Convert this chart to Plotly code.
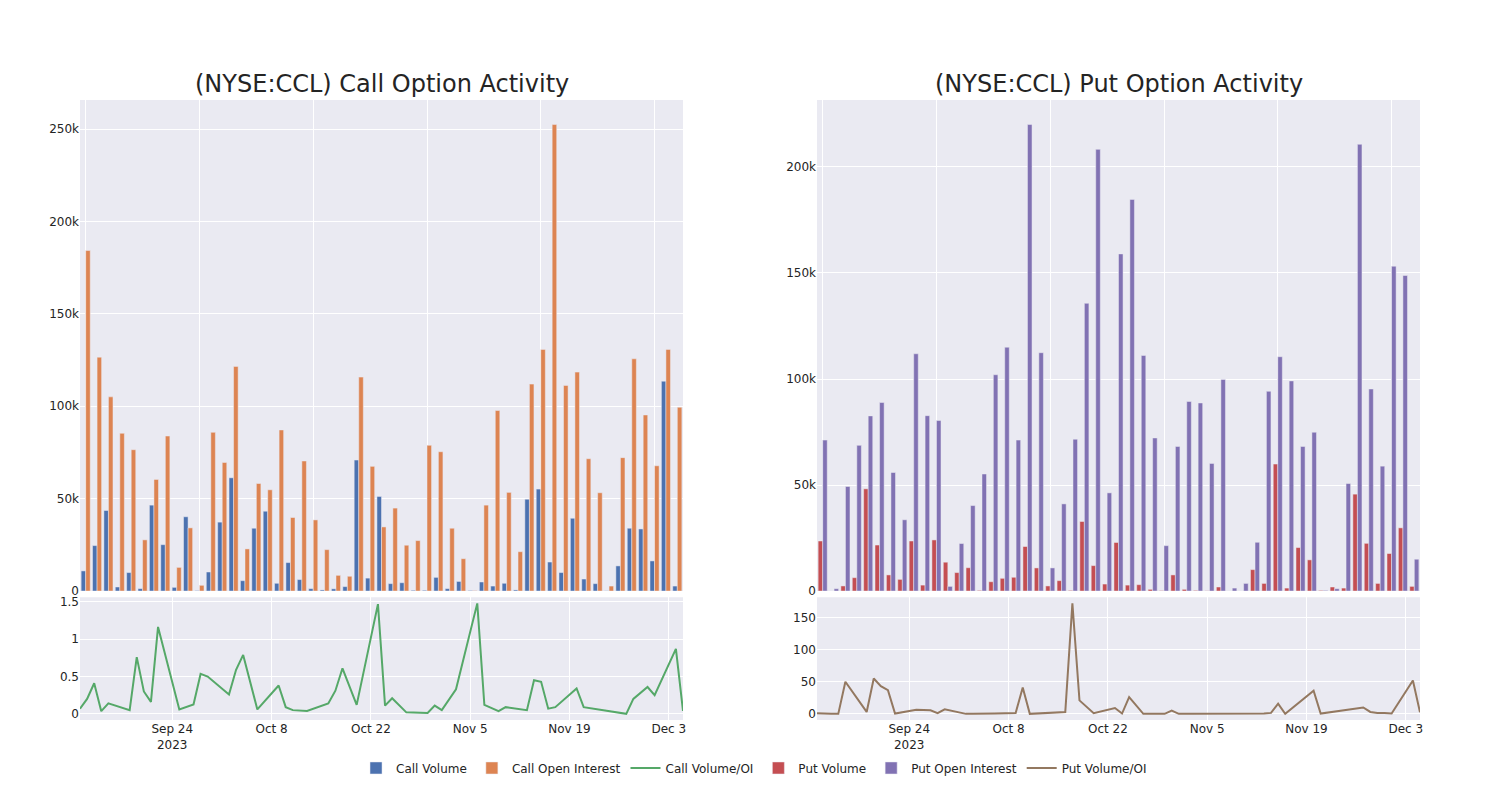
import plotly.graph_objects as go
from plotly.subplots import make_subplots

# ---- data ----
dates = [
    "2023-09-11", "2023-09-12", "2023-09-13", "2023-09-14", "2023-09-15",
    "2023-09-18", "2023-09-19", "2023-09-20", "2023-09-21", "2023-09-22",
    "2023-09-25", "2023-09-27", "2023-09-28", "2023-09-29",
    "2023-10-02", "2023-10-03", "2023-10-04", "2023-10-06",
    "2023-10-09", "2023-10-10", "2023-10-11", "2023-10-13",
    "2023-10-16", "2023-10-17", "2023-10-18", "2023-10-20",
    "2023-10-23", "2023-10-24", "2023-10-25", "2023-10-27",
    "2023-10-30", "2023-10-31", "2023-11-01", "2023-11-03",
    "2023-11-06", "2023-11-07", "2023-11-09", "2023-11-10",
    "2023-11-13", "2023-11-14", "2023-11-15", "2023-11-16", "2023-11-17",
    "2023-11-20", "2023-11-21", "2023-11-22",
    "2023-11-27", "2023-11-28", "2023-11-29", "2023-11-30", "2023-12-01",
    "2023-12-04", "2023-12-05",
]

call_volume = [
    10900, 24600, 43600, 2200, 10000, 1300, 46500, 25100, 2000, 40200,
    200, 10300, 37300, 61300, 5600, 34000, 43200, 4200, 15400, 6200,
    1300, 600, 1200, 2400, 70900, 7000, 51200, 4000, 4500, 400,
    400, 7400, 1300, 5200, 300, 4900, 2700, 4200, 600, 49700,
    55200, 15700, 10000, 39400, 6500, 4000, 100, 13600, 34000, 33600,
    16300, 113600, 2700,
]
call_open_interest = [
    184300, 126600, 105100, 85400, 76500, 27700, 60400, 83900, 12800, 34200,
    3100, 85900, 69600, 121600, 22800, 58200, 54800, 87200, 39800, 70400,
    38500, 22400, 8500, 8000, 115800, 67500, 34700, 44900, 24800, 27300,
    78900, 75400, 34000, 17500, 200, 46500, 97700, 53400, 21300, 112000,
    130800, 252500, 111300, 118500, 71600, 53200, 2700, 72200, 125700, 95300,
    67800, 130800, 99500,
]
call_vol_oi = [
    0.07, 0.20, 0.41, 0.036, 0.14, 0.05, 0.76, 0.30, 0.16, 1.165,
    0.06, 0.125, 0.535, 0.50, 0.26, 0.59, 0.79, 0.06, 0.38, 0.09,
    0.05, 0.04, 0.14, 0.31, 0.61, 0.12, 1.47, 0.11, 0.21, 0.02,
    0.013, 0.11, 0.05, 0.33, 1.48, 0.12, 0.036, 0.09, 0.05, 0.45,
    0.43, 0.07, 0.09, 0.34, 0.09, 0.075, 0.0, 0.20, 0.28, 0.36,
    0.25, 0.87, 0.04,
]

put_volume = [
    23600, 0, 2400, 6300, 48200, 21700, 7600, 5500, 23600, 2800,
    24100, 13600, 8700, 11000, 300, 4400, 6000, 6500, 21000, 10900,
    2400, 4900, 300, 32800, 12000, 3300, 22900, 2800, 3000, 800,
    200, 7600, 800, 300, 100, 1900, 0, 0, 10100, 3600,
    59900, 1400, 20500, 14700, 300, 1900, 1400, 45700, 22500, 3600,
    17700, 29800, 2200,
]
put_open_interest = [
    71200, 1100, 49300, 68700, 82600, 88900, 55900, 33600, 111900, 82700,
    80400, 2200, 22400, 40300, 55200, 102000, 115000, 71200, 220000, 112400,
    10900, 41100, 71600, 135700, 208300, 46300, 159000, 184700, 111100, 72200,
    21400, 68200, 89400, 88700, 60200, 99800, 1400, 3600, 23000, 94200,
    110500, 99100, 68200, 74900, 300, 1100, 50700, 210700, 95300, 58900,
    153200, 148800, 15000,
]
put_vol_oi = [
    1, 0, 0, 0, 50, 3, 55, 43, 37, 0.5,
    6.5, 5.5, 1, 7, 0, 0, 0, 0.5, 1.5, 41,
    0, 1, 3, 172, 21, 1, 9, 0.5, 26, 0,
    0, 5, 0, 0, 0, 0, 0.2, 0.3, 0.5, 1.5,
    16, 0, 9, 36, 0.5, 2, 10, 3, 1.5, 1.5,
    0.5, 52, 2.5,
]

titles = ["(NYSE:CCL) Call Option Activity", "(NYSE:CCL) Put Option Activity"]
colors = {
    "call_vol": "rgb(76,114,176)",
    "call_oi": "rgb(221,132,82)",
    "call_ratio": "rgb(85,168,104)",
    "put_vol": "rgb(196,78,82)",
    "put_oi": "rgb(129,114,179)",
    "put_ratio": "rgb(147,120,96)",
}

fig = make_subplots(
    rows=2, cols=2,
    row_heights=[0.8, 0.2],
    vertical_spacing=0.01,
    horizontal_spacing=0.1,
    subplot_titles=titles,
)

fig.add_trace(go.Bar(x=dates, y=call_volume, name="Call Volume",
                     marker_color=colors["call_vol"]), row=1, col=1)
fig.add_trace(go.Bar(x=dates, y=call_open_interest, name="Call Open Interest",
                     marker_color=colors["call_oi"]), row=1, col=1)
fig.add_trace(go.Scatter(x=dates, y=call_vol_oi, name="Call Volume/OI", mode="lines",
                         line=dict(color=colors["call_ratio"], width=2)), row=2, col=1)
fig.add_trace(go.Bar(x=dates, y=put_volume, name="Put Volume",
                     marker_color=colors["put_vol"]), row=1, col=2)
fig.add_trace(go.Bar(x=dates, y=put_open_interest, name="Put Open Interest",
                     marker_color=colors["put_oi"]), row=1, col=2)
fig.add_trace(go.Scatter(x=dates, y=put_vol_oi, name="Put Volume/OI", mode="lines",
                         line=dict(color=colors["put_ratio"], width=2)), row=2, col=2)

fig.update_layout(
    template="seaborn",
    width=1500, height=800,
    margin=dict(l=80, r=80, t=100, b=80),
    font=dict(family="DejaVu Sans", color="rgb(36,36,36)", size=12),
    barmode="group",
    legend=dict(orientation="h", x=0.503, xanchor="center", y=-0.054, yanchor="top"),
)
fig.update_annotations(font=dict(size=24, family="DejaVu Sans", color="rgb(36,36,36)"))

for ax in ("xaxis", "xaxis2"):
    fig.layout[ax].update(type="category", showticklabels=False,
                          tickmode="linear", tick0=0, dtick=10)
for ax in ("xaxis3", "xaxis4"):
    fig.layout[ax].update(type="date")

fig.write_html(
    "out.html",
    config={"displayModeBar": False},
    post_script="document.body.style.margin='0';document.body.style.overflow='hidden';",
)
